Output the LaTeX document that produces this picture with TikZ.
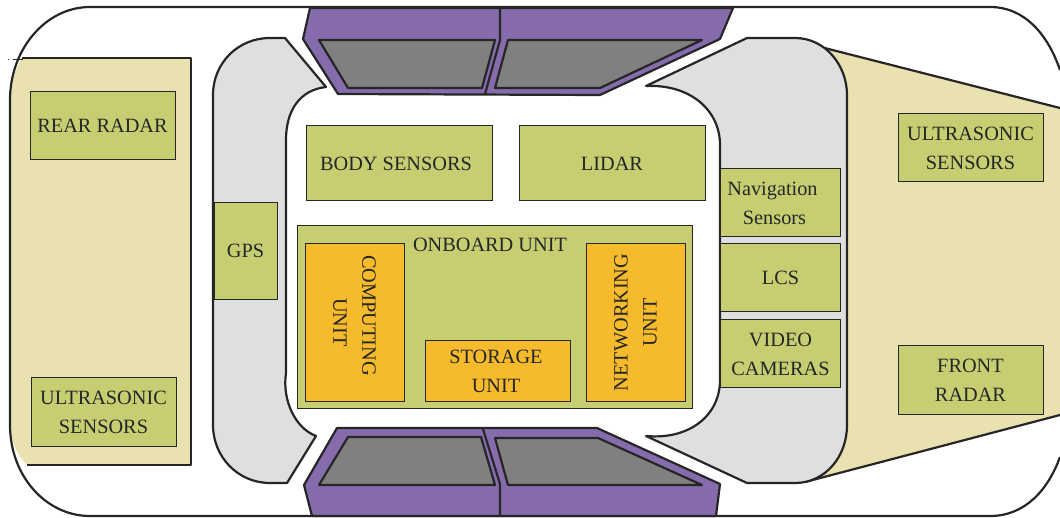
\documentclass[tikz,border=0pt]{standalone}
\usepackage{fontspec}
\setmainfont{Liberation Serif}
\definecolor{tanarea}{HTML}{E9E1B0}
\definecolor{greyarea}{HTML}{DEDFE1}
\definecolor{boxgreen}{HTML}{C7CE72}
\definecolor{boxorange}{HTML}{F5BB2C}
\definecolor{framepurple}{HTML}{866CAC}
\definecolor{windowgrey}{HTML}{808080}
\definecolor{inkdark}{HTML}{262626}
\tikzset{
    bodyline/.style={draw=inkdark, line width=2.2pt, line join=round},
    sensorbox/.style={draw=inkdark, line width=1pt, fill=boxgreen, text=inkdark, align=center,
        font=\fontsize{20.3}{29}\selectfont, inner sep=0pt},
    unitbox/.style={sensorbox, fill=boxorange}
}
\begin{document}
\begin{tikzpicture}[x=1pt,y=-1pt]
    \useasboundingbox (0,0) rectangle (1060,518);
    % tan areas at both ends
    \fill[tanarea] (805,43) -- (1060,108) -- (1060,415) -- (805,482) -- cycle;
    \draw[bodyline] (805,43) -- (1060,108);
    \draw[bodyline] (805,482) -- (1060,415);
    \fill[tanarea] (22,58) -- (191,58) -- (191,465) -- (27,465) .. controls (17,455) and (10,440) .. (10,425) -- (10,100) .. controls (10,85) and (15,70) .. (22,58) -- cycle;
    \draw[bodyline] (22,58) -- (191,58) -- (191,465) -- (27,465);
    \draw[thin, inkdark, dash pattern=on 1pt off 4pt on 10pt] (8,59) -- (23,59);
    % outline of the car
    \draw[bodyline] (1060,70) .. controls (1048,35) and (1025,7) .. (990,7) -- (90,7) .. controls (46,7) and (10,49) .. (10,100)
        -- (10,425) .. controls (10,476) and (46,516) .. (90,516) -- (990,516) .. controls (1025,516) and (1048,490) .. (1060,457);
    % grey side panels
    \draw[bodyline, fill=greyarea] (285,38) -- (326,87) .. controls (300,90) and (286,110) .. (286,140) -- (286,373)
        .. controls (282,400) and (295,428) .. (316,436) -- (287,483) -- (270,483) .. controls (238,483) and (213,457) .. (213,425)
        -- (213,95) .. controls (213,63) and (238,38) .. (270,38) -- cycle;
    \draw[bodyline, fill=greyarea] (747,38) -- (646,86) .. controls (690,84) and (720,110) .. (720,145) -- (720,380)
        .. controls (720,415) and (690,440) .. (646,436) -- (747,483) -- (795,483) .. controls (825,483) and (847,457) .. (847,425)
        -- (847,95) .. controls (847,65) and (825,38) .. (795,38) -- cycle;
    % top windscreen
    \draw[bodyline, fill=framepurple] (310,8) -- (303,39) -- (338,94) -- (600,95) -- (720,39) -- (733,8) -- cycle;
    \draw[bodyline] (500,8) -- (500,40) -- (485,94);
    \draw[bodyline, fill=windowgrey] (319,40) -- (495,40) -- (482,88) -- (348,88) -- cycle;
    \draw[bodyline, fill=windowgrey] (508,40) -- (702,40) -- (600,88) -- (495,88) -- cycle;
    % bottom windscreen
    \draw[bodyline, fill=framepurple] (337,428) -- (597,428) -- (720,484) -- (716,516) -- (312,516) -- (304,485) -- cycle;
    \draw[bodyline] (483,429) -- (500,484) -- (500,516);
    \draw[bodyline, fill=windowgrey] (348,437) -- (481,437) -- (495,485) -- (319,485) -- cycle;
    \draw[bodyline, fill=windowgrey] (495,438) -- (598,438) -- (702,485) -- (508,485) -- cycle;
    % sensors
    \node[sensorbox, minimum width=145pt, minimum height=68pt] (rearradar) at (102.5,126) {REAR RADAR};
    \node[sensorbox, minimum width=145pt, minimum height=68pt] (rearultra) at (103.5,412) {ULTRASONIC\\SENSORS};
    \node[sensorbox, minimum width=63pt, minimum height=97pt] (gps) at (245.5,251) {GPS};
    \node[sensorbox, minimum width=186pt, minimum height=75pt] (bodysensors) at (399.5,163.5) {BODY SENSORS\hspace*{7pt}};
    \node[sensorbox, minimum width=186pt, minimum height=75pt] (lidar) at (612,163.5) {LIDAR};
    \node[sensorbox, minimum width=120pt, minimum height=68pt] (navigation) at (780.5,203) {Navigation\hspace*{16pt}\\Sensors\hspace*{12pt}};
    \node[sensorbox, minimum width=120pt, minimum height=68pt] (lcs) at (780.5,278) {LCS};
    \node[sensorbox, minimum width=120pt, minimum height=68pt] (video) at (780.5,354) {VIDEO\\CAMERAS};
    \node[sensorbox, minimum width=145pt, minimum height=68pt] (frontultra) at (970.5,148) {ULTRASONIC\\SENSORS};
    \node[sensorbox, minimum width=145pt, minimum height=68pt] (frontradar) at (970.5,380) {FRONT\\RADAR};
    % onboard unit
    \node[sensorbox, minimum width=395pt, minimum height=182pt] (onboard) at (494.5,317) {};
    \node[text=inkdark, font=\fontsize{20.3}{29}\selectfont, inner sep=0pt] (onboardlabel) at (490,245) {ONBOARD UNIT};
    \node[unitbox, minimum width=157pt, minimum height=99pt, rotate=-90] (computing) at (354.5,322.5) {COMPUTING\hspace*{14pt}\\UNIT};
    \node[unitbox, minimum width=145pt, minimum height=60pt] (storage) at (497.5,371) {STORAGE\hspace*{3pt}\\UNIT\hspace*{3pt}};
    \node[unitbox, minimum width=157pt, minimum height=99pt, rotate=90] (networking) at (635.5,322.5) {NETWORKING\\UNIT};
\end{tikzpicture}
\end{document}
